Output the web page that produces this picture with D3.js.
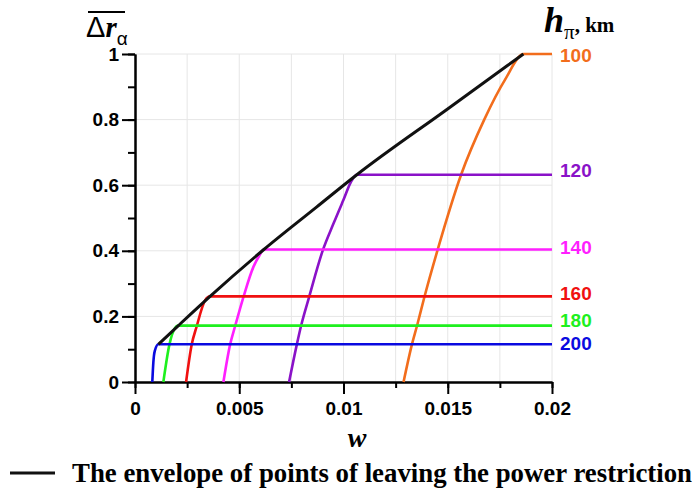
<!DOCTYPE html>
<html>
<head>
<meta charset="utf-8">
<script src="https://cdn.jsdelivr.net/npm/d3@7"></script>
<style>
  body { margin: 0; background: #fff; }
  .tick text { font-family: "Liberation Sans", Arial, sans-serif; font-weight: bold; font-size: 19px; fill: #000; }
  .axis path, .axis line { stroke: #000; stroke-width: 2px; }
  .grid line { stroke: #e6e6e6; stroke-width: 1px; }
</style>
</head>
<body>
<svg id="draw"></svg>
<script>
// heights of the pericentre, km
const heights = [100, 120, 140, 160, 180, 200];
const colors = ["#f26d1c", "#8a12c8", "#ff1fff", "#f01010", "#1ef01e", "#0a0ae0"];

// curves w -> mean delta r for each height
const w100 = [0.01288, 0.01328, 0.01352, 0.01388, 0.01451, 0.01564, 0.01675, 0.01775, 0.01864, 0.02];
const r100 = [0, 0.114, 0.170, 0.259, 0.402, 0.632, 0.800, 0.922, 1.0, 1.0];
const w120 = [0.00739, 0.00776, 0.00796, 0.00835, 0.00901, 0.00952, 0.00999, 0.0104, 0.01064, 0.02];
const r120 = [0, 0.114, 0.170, 0.259, 0.402, 0.483, 0.554, 0.615, 0.632, 0.632];
const w140 = [0.00424, 0.00456, 0.0048, 0.0052, 0.00568, 0.00596, 0.00618, 0.02];
const r140 = [0, 0.114, 0.170, 0.259, 0.351, 0.385, 0.404, 0.404];
const w160 = [0.00245, 0.00272, 0.00296, 0.00336, 0.0036, 0.02];
const r160 = [0, 0.114, 0.170, 0.249, 0.261, 0.261];
const w180 = [0.00136, 0.00165, 0.00192, 0.00205, 0.02];
const r180 = [0, 0.114, 0.165, 0.172, 0.172];
const w200 = [0.00083, 0.00088, 0.00095, 0.00112, 0.02];
const r200 = [0, 0.06, 0.095, 0.115, 0.115];

// envelope of points of leaving the power restriction
const wEnv = [0.00112, 0.00208, 0.0036, 0.00618, 0.00872, 0.01064, 0.01496, 0.01863];
const rEnv = [0.115, 0.172, 0.261, 0.404, 0.534, 0.632, 0.831, 1.0];

const xTicks = [0, 0.005, 0.01, 0.015, 0.02];
const yTicks = [0, 0.2, 0.4, 0.6, 0.8, 1];
const legendText = "The envelope of points of leaving the power restriction";

const wSeries = [w100, w120, w140, w160, w180, w200];
const rSeries = [r100, r120, r140, r160, r180, r200];

let margin = { top: 54, right: 145, bottom: 107, left: 135 };
let width = 697 - margin.left - margin.right;
let height = 489 - margin.top - margin.bottom;

let root = d3.select("#draw")
  .attr("width", 697)
  .attr("height", 489);

let svg = root.append("g")
  .attr("transform", "translate(" + margin.left + "," + margin.top + ")");

let xScale = d3.scaleLinear().domain([0, 0.02]).range([0, width]);
let yScale = d3.scaleLinear().domain([0, 1]).range([height, 0]);

// grid
svg.append("g").attr("class", "grid")
  .selectAll("line")
  .data(d3.range(1, 9).map(i => i * 0.0025))
  .enter().append("line")
  .attr("x1", d => xScale(d)).attr("x2", d => xScale(d))
  .attr("y1", 0).attr("y2", height);

svg.append("g").attr("class", "grid")
  .selectAll("line")
  .data([0.2, 0.4, 0.6, 0.8, 1])
  .enter().append("line")
  .attr("x1", 0).attr("x2", width)
  .attr("y1", d => yScale(d)).attr("y2", d => yScale(d));

// minor ticks
svg.append("g").attr("class", "axis")
  .attr("transform", "translate(0," + height + ")")
  .call(d3.axisBottom(xScale).tickValues(d3.range(0, 9).map(i => i * 0.0025)).tickSize(6).tickSizeOuter(0).tickFormat(""));
svg.append("g").attr("class", "axis")
  .call(d3.axisLeft(yScale).tickValues(d3.range(0, 11).map(i => i * 0.1)).tickSize(7).tickSizeOuter(0).tickFormat(""));

// major ticks
svg.append("g").attr("class", "axis x")
  .attr("transform", "translate(0," + height + ")")
  .call(d3.axisBottom(xScale).tickValues(xTicks).tickSize(12).tickSizeOuter(0).tickPadding(8).tickFormat(d3.format("")));
svg.append("g").attr("class", "axis y")
  .call(d3.axisLeft(yScale).tickValues(yTicks).tickSize(13).tickSizeOuter(0).tickPadding(3).tickFormat(d3.format("")));

// curves
let line = d3.line()
  .x(d => xScale(d[0]))
  .y(d => yScale(d[1]))
  .curve(d3.curveMonotoneX);

heights.forEach(function(h, i) {
  let pts = wSeries[i].map((w, j) => [w, rSeries[i][j]]);
  svg.append("path")
    .datum(pts)
    .attr("fill", "none")
    .attr("stroke", colors[i])
    .attr("stroke-width", 2.6)
    .attr("d", line);
});

svg.append("path")
  .datum(wEnv.map((w, j) => [w, rEnv[j]]))
  .attr("fill", "none")
  .attr("stroke", "#111")
  .attr("stroke-width", 3)
  .attr("d", line);

// right labels
let labelY = [1, 0.632, 0.404, 0.261, 0.172, 0.115];
let labelOffset = [1, -4.6, -2.6, -3, -5.5, -0.5];
heights.forEach(function(h, i) {
  svg.append("text")
    .attr("x", width + 8)
    .attr("y", yScale(labelY[i]) + labelOffset[i])
    .attr("dy", "0.35em")
    .attr("fill", colors[i])
    .style("font-family", "Liberation Sans, Arial, sans-serif")
    .style("font-weight", "bold")
    .style("font-size", "19px")
    .text(h);
});

// y axis title: mean delta r_alpha
let yt = root.append("text")
  .attr("x", 86).attr("y", 37)
  .style("font-size", "29px");
yt.append("tspan").style("font-family", "Liberation Sans, Arial, sans-serif").text("Δ");
yt.append("tspan")
  .style("font-family", "Liberation Serif, Times New Roman, serif")
  .style("font-weight", "bold").style("font-style", "italic")
  .text("r");
yt.append("tspan")
  .attr("dy", 8)
  .style("font-family", "Liberation Sans, Arial, sans-serif")
  .style("font-size", "19px")
  .text("α");
root.append("line")
  .attr("x1", 88).attr("x2", 125)
  .attr("y1", 12).attr("y2", 12)
  .attr("stroke", "#000").attr("stroke-width", 2);

// right title h_pi, km
let ht = root.append("text")
  .attr("x", 544).attr("y", 32)
  .style("font-family", "Liberation Serif, Times New Roman, serif")
  .style("font-weight", "bold");
ht.append("tspan").style("font-style", "italic").style("font-size", "36px").text("h");
ht.append("tspan").attr("dy", 7).style("font-size", "21px").style("font-weight", "normal").text("π");
ht.append("tspan").attr("dy", -7).style("font-size", "21px").text(", km");

// x axis title
root.append("text")
  .attr("x", 357).attr("y", 447)
  .attr("text-anchor", "middle")
  .style("font-family", "Liberation Serif, Times New Roman, serif")
  .style("font-weight", "bold").style("font-style", "italic")
  .style("font-size", "28px")
  .text("w");

// legend
root.append("line")
  .attr("x1", 10).attr("x2", 55)
  .attr("y1", 473).attr("y2", 473)
  .attr("stroke", "#111").attr("stroke-width", 3);
root.append("text")
  .attr("x", 72).attr("y", 482)
  .attr("textLength", 620)
  .attr("lengthAdjust", "spacingAndGlyphs")
  .style("font-family", "Liberation Serif, Times New Roman, serif")
  .style("font-weight", "bold")
  .style("font-size", "27px")
  .text(legendText);
</script>
</body>
</html>
